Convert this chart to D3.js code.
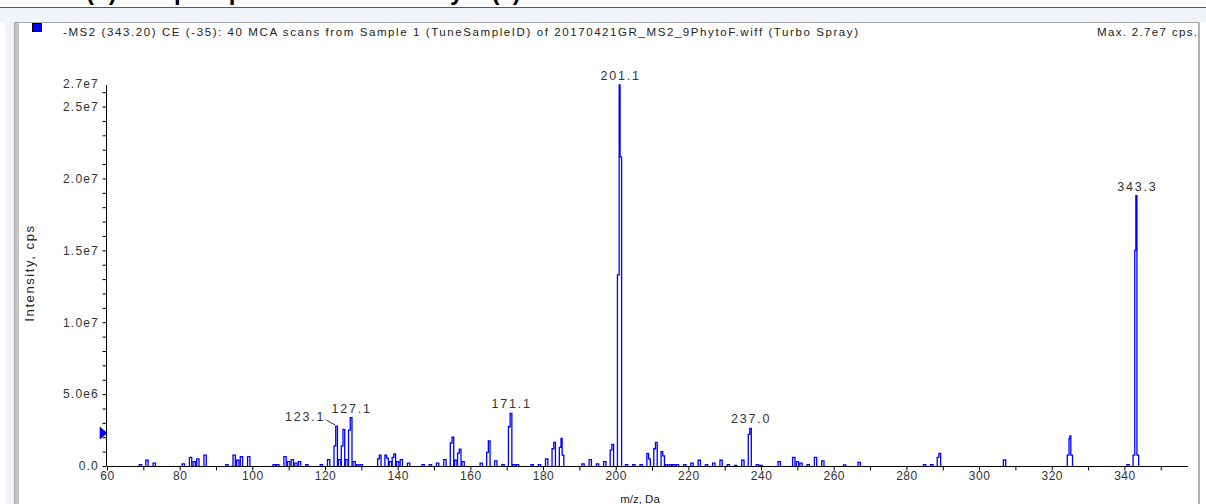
<!DOCTYPE html>
<html>
<head>
<meta charset="utf-8">
<script src="https://cdn.jsdelivr.net/npm/d3@7"></script>
<style>
  html, body { margin: 0; padding: 0; background: #ffffff; }
  svg { display: block; }
  text { font-family: "Liberation Sans", Arial, sans-serif; }
</style>
</head>
<body>
<svg id="chart" width="1206" height="504"></svg>
<script>
// ---------------- data ----------------
const headerText = "-MS2 (343.20) CE (-35): 40 MCA scans from Sample 1 (TuneSampleID) of 20170421GR_MS2_9PhytoF.wiff (Turbo Spray)";
const maxText = "Max. 2.7e7 cps.";
const captionText = "(b) Sample spectrum of the analyte (a)";
const xTitle = "m/z, Da";
const yTitle = "Intensity, cps";

// profile sticks (m/z, intensity in cps)
const mzValues = [
  69.2, 71.0, 73.0, 81.0, 83.0, 84.0, 85.0, 87.0, 93.0, 95.0, 96.0, 97.0, 99.0,
  106.0, 107.0, 109.0, 110.0, 111.0, 112.0, 113.0, 115.0, 119.0, 121.0,
  122.8, 123.1, 124.0, 124.8, 125.1, 126.0, 126.8, 127.1, 128.0, 129.0, 130.0,
  134.8, 135.1, 136.8, 137.1, 138.0, 138.8, 139.1, 140.0, 141.0, 143.0, 147.0, 149.0,
  151.0, 153.0, 154.8, 155.1, 156.0, 156.8, 157.1, 158.0, 163.0, 164.8, 165.1, 167.0, 169.0,
  170.8, 171.1, 172.0, 173.0, 177.0, 179.0, 181.0, 182.8, 183.1, 184.8, 185.1, 185.4,
  191.0, 193.0, 195.0, 197.0, 198.8, 199.1, 200.8, 201.1, 201.3, 203.0, 205.0, 207.0,
  208.9, 209.2, 210.8, 211.1, 212.8, 213.1, 214.0, 215.0, 216.0, 217.0, 219.0, 221.0, 223.0,
  225.0, 227.0, 229.0, 231.0, 233.0, 235.0, 236.8, 237.0, 239.0, 240.0, 245.0, 249.0, 250.0,
  251.0, 253.0, 255.0, 257.0, 263.0, 267.0, 285.0, 287.0, 288.8, 289.1, 307.0,
  324.6, 324.9, 325.1, 325.4, 341.0, 342.7, 343.0, 343.3, 343.6
];
const intensityValues = [
  0.1e6, 0.4e6, 0.2e6, 0.15e6, 0.6e6, 0.3e6, 0.5e6, 0.75e6, 0.1e6, 0.75e6, 0.4e6, 0.65e6, 0.65e6,
  0.1e6, 0.1e6, 0.65e6, 0.3e6, 0.45e6, 0.2e6, 0.3e6, 0.1e6, 0.1e6, 0.45e6,
  1.4e6, 2.78e6, 0.45e6, 1.4e6, 2.55e6, 0.45e6, 2.5e6, 3.36e6, 0.3e6, 0.1e6, 0.1e6,
  0.5e6, 0.75e6, 0.75e6, 0.55e6, 0.3e6, 0.6e6, 0.85e6, 0.3e6, 0.45e6, 0.2e6, 0.1e6, 0.1e6,
  0.2e6, 0.45e6, 1.6e6, 2.0e6, 0.4e6, 0.9e6, 1.18e6, 0.3e6, 0.2e6, 0.95e6, 1.74e6, 0.35e6, 0.1e6,
  2.73e6, 3.66e6, 0.1e6, 0.1e6, 0.1e6, 0.1e6, 0.5e6, 1.2e6, 1.65e6, 1.3e6, 1.92e6, 0.75e6,
  0.15e6, 0.45e6, 0.15e6, 0.3e6, 1.1e6, 1.5e6, 1.33e7, 2.65e7, 2.15e7, 0.1e6, 0.1e6, 0.1e6,
  0.88e6, 0.5e6, 1.2e6, 1.65e6, 1.0e6, 0.7e6, 0.1e6, 0.1e6, 0.1e6, 0.1e6, 0.1e6, 0.2e6, 0.4e6,
  0.1e6, 0.2e6, 0.4e6, 0.1e6, 0.05e6, 0.4e6, 2.2e6, 2.62e6, 0.1e6, 0.05e6, 0.3e6, 0.6e6, 0.3e6,
  0.2e6, 0.1e6, 0.6e6, 0.35e6, 0.08e6, 0.25e6, 0.1e6, 0.1e6, 0.6e6, 0.88e6, 0.42e6,
  0.76e6, 1.9e6, 2.1e6, 0.76e6, 0.1e6, 0.76e6, 1.5e7, 1.88e7, 0.76e6
];

// annotated peaks
const peakLabels = ["123.1", "127.1", "171.1", "201.1", "237.0", "343.3"];
const peakLabelMz = [123.1, 127.1, 171.1, 201.1, 237.0, 343.3];

// axis ticks
const xTickValues = [60, 70, 80, 90, 100, 110, 120, 130, 140, 150, 160, 170, 180, 190, 200,
  210, 220, 230, 240, 250, 260, 270, 280, 290, 300, 310, 320, 330, 340, 350];
const xTickLabels = ["60", "", "80", "", "100", "", "120", "", "140", "", "160", "", "180", "", "200",
  "", "220", "", "240", "", "260", "", "280", "", "300", "", "320", "", "340", ""];
const yTickValues = [0, 1e6, 2e6, 3e6, 4e6, 5e6, 6e6, 7e6, 8e6, 9e6, 10e6, 11e6, 12e6, 13e6, 14e6,
  15e6, 16e6, 17e6, 18e6, 19e6, 20e6, 21e6, 22e6, 23e6, 24e6, 25e6, 26e6];
const yTickLabels = ["0.0", "", "", "", "", "5.0e6", "", "", "", "", "1.0e7", "", "", "", "",
  "1.5e7", "", "", "", "", "2.0e7", "", "", "", "", "2.5e7", ""];
const yTopLabel = "2.7e7";
const thresholdValue = 2.29e6;

// ---------------- drawing ----------------
const svg = d3.select("#chart");
const W = 1206, H = 504;
const FONT = "Liberation Sans, Arial, sans-serif";

// page chrome
svg.append("rect").attr("x", 0).attr("y", 0).attr("width", W).attr("height", H).attr("fill", "#ffffff");
svg.append("text").attr("x", 86).attr("y", 0).attr("font-size", 24).attr("font-weight", "bold")
  .attr("fill", "#000").text(captionText);
svg.append("rect").attr("x", 0).attr("y", 7).attr("width", W).attr("height", H - 7).attr("fill", "#f1f4f9");
svg.append("line").attr("x1", 0).attr("x2", W).attr("y1", 7.5).attr("y2", 7.5).attr("stroke", "#5a5a5a").attr("stroke-width", 1.2);
svg.append("rect").attr("x", 0).attr("y", 22).attr("width", 5).attr("height", H - 22).attr("fill", "#ffffff");
svg.append("rect").attr("x", 15).attr("y", 22).attr("width", 1185).attr("height", H - 22).attr("fill", "#ffffff");
svg.append("rect").attr("x", 15).attr("y", 22).attr("width", 4).attr("height", H - 22).attr("fill", "#c4c4c4");
svg.append("line").attr("x1", 14).attr("x2", 1200).attr("y1", 22.5).attr("y2", 22.5).attr("stroke", "#a9a9a9");
svg.append("line").attr("x1", 14.5).attr("x2", 14.5).attr("y1", 22).attr("y2", H).attr("stroke", "#a9a9a9");
svg.append("rect").attr("x", 1198).attr("y", 22).attr("width", 2).attr("height", H - 22).attr("fill", "#b4b4b4");
svg.append("rect").attr("x", 1200).attr("y", 22).attr("width", 6).attr("height", H - 22).attr("fill", "#ffffff");

// legend / header
svg.append("rect").attr("x", 32.5).attr("y", 23.5).attr("width", 9).attr("height", 8)
  .attr("fill", "#0000ff").attr("stroke", "#000").attr("stroke-width", 1);
svg.append("text").attr("x", 63).attr("y", 36).attr("font-size", 11.5).attr("fill", "#222")
  .attr("textLength", 795).attr("lengthAdjust", "spacing").text(headerText);
svg.append("text").attr("x", 1097).attr("y", 36).attr("font-size", 11.5).attr("fill", "#222")
  .attr("textLength", 100).attr("lengthAdjust", "spacing").text(maxText);

// scales
const x = d3.scaleLinear().domain([60, 357.5]).range([107, 1188]);
const y = d3.scaleLinear().domain([0, 2.65e7]).range([466, 85]);

// spectrum: group sticks into clusters, draw outline of each cluster
const pts = mzValues.map((m, i) => ({ mz: m, v: intensityValues[i] })).sort((a, b) => a.mz - b.mz);
const clusters = [];
pts.forEach(p => {
  const last = clusters[clusters.length - 1];
  if (last && p.mz - last[last.length - 1].mz < 0.5) last.push(p); else clusters.push([p]);
});
const hw = 0.32;
const g = svg.append("g");
clusters.forEach(c => {
  const path = d3.path();
  path.moveTo(x(c[0].mz - hw), y(0));
  c.forEach((p, i) => {
    const xl = i === 0 ? x(p.mz - hw) : x((c[i - 1].mz + p.mz) / 2);
    path.lineTo(xl, y(p.v));
    const xr = i === c.length - 1 ? x(p.mz + hw) : x((p.mz + c[i + 1].mz) / 2);
    path.lineTo(xr, y(p.v));
  });
  path.lineTo(x(c[c.length - 1].mz + hw), y(0));
  g.append("path").attr("d", path.toString()).attr("fill", "none")
    .attr("stroke", "#0000ff").attr("stroke-width", 1.3).attr("stroke-linejoin", "miter");
});

// axes
const xAxis = d3.axisBottom(x).tickValues(xTickValues).tickSize(4).tickSizeOuter(0)
  .tickFormat((d, i) => xTickLabels[i]);
const gx = svg.append("g").attr("transform", `translate(0,${y(0)})`).call(xAxis);
gx.select(".domain").attr("d", `M${x(60)},0.5H1188`).attr("stroke", "#000");
gx.selectAll(".tick line").attr("stroke", "#000").attr("transform", "translate(0,0.5)");
gx.selectAll(".tick text").attr("font-size", 12).attr("fill", "#333").attr("letter-spacing", 0.5)
  .attr("font-family", FONT).attr("dy", "0.55em");

const yAxis = d3.axisLeft(y).tickValues(yTickValues).tickSize(4).tickSizeOuter(0)
  .tickFormat((d, i) => yTickLabels[i]);
const gy = svg.append("g").attr("transform", `translate(${x(60)},0)`).call(yAxis);
gy.select(".domain").attr("d", `M-0.5,${y(0)}V${y(2.65e7)}`).attr("stroke", "#000");
gy.selectAll(".tick line").attr("stroke", "#000").attr("transform", "translate(-0.5,0)");
gy.selectAll(".tick text").attr("font-size", 12).attr("fill", "#333").attr("letter-spacing", 1.2)
  .attr("font-family", FONT).attr("x", -8);
gy.append("text").attr("x", -8).attr("y", y(2.65e7)).attr("dy", "0.25em")
  .attr("text-anchor", "end").attr("font-size", 12).attr("letter-spacing", 1.2)
  .attr("fill", "#333").text(yTopLabel);

// threshold marker
const ty = y(thresholdValue);
svg.append("path").attr("d", `M${x(60) - 7},${ty - 6}L${x(60)},${ty}L${x(60) - 7},${ty + 6}Z`)
  .attr("fill", "#0000ff").attr("stroke", "#000080").attr("stroke-width", 0.6);

// axis titles
svg.append("text").attr("transform", `translate(34,${273}) rotate(-90)`).attr("text-anchor", "middle")
  .attr("font-size", 13).attr("letter-spacing", 1.6).attr("fill", "#222").text(yTitle);
svg.append("text").attr("x", 640).attr("y", 503).attr("text-anchor", "middle")
  .attr("font-size", 11.5).attr("fill", "#222").text(xTitle);

// peak labels
peakLabels.forEach((lab, i) => {
  const m = peakLabelMz[i];
  const top = d3.max(pts.filter(p => Math.abs(p.mz - m) < 0.45), p => p.v);
  const px = x(m), py = y(top);
  const t = svg.append("text").attr("y", py - 5).attr("font-size", 12.5)
    .attr("letter-spacing", 1.8).attr("fill", "#333").text(lab);
  if (lab === "123.1") {
    t.attr("x", px - 11).attr("text-anchor", "end");
    svg.append("line").attr("x1", px - 10).attr("y1", py - 6).attr("x2", px - 1).attr("y2", py - 1)
      .attr("stroke", "#333").attr("stroke-width", 1);
  } else {
    t.attr("x", px + 0.9).attr("text-anchor", "middle");
  }
});
</script>
</body>
</html>
